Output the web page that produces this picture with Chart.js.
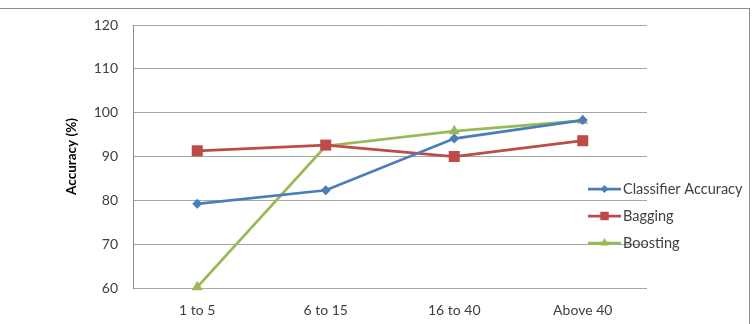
<!DOCTYPE html>
<html>
<head>
<meta charset="utf-8">
<script src="https://cdn.jsdelivr.net/npm/chart.js@4/dist/chart.umd.min.js"></script>
<style>
  html, body { margin: 0; padding: 0; background: #fff; }
  #wrap { position: relative; width: 754px; height: 324px; overflow: hidden; }
  #frame { position: absolute; left: -2px; top: 8px; width: 752px; height: 330px; border: 1px solid #8c8c8c; box-sizing: border-box; }
  canvas { position: absolute; left: 0; top: 0; }
</style>
</head>
<body>
<div id="wrap">
  <div id="frame"></div>
  <canvas id="chart" width="754" height="324"></canvas>
</div>
<script>
Chart.defaults.font.family = 'Lato, "Open Sans", sans-serif';
Chart.defaults.color = '#404040';

// dane
const categories = ['1 to 5', '6 to 15', '16 to 40', 'Above 40'];
const classifierAccuracy = [79.2, 82.3, 94.1, 98.3];
const bagging = [91.3, 92.6, 90.0, 93.6];
const boosting = [60.2, 92.4, 95.8, 98.2];
const seriesNames = ['Classifier Accuracy', 'Bagging', 'Boosting'];
const yTicks = [60, 70, 80, 90, 100, 110, 120];

const colors = ['#4a7ebb', '#be4b48', '#98b954'];
const shapes = ['rectRot', 'rect', 'triangle'];
const radii = [5, 7.8, 6.3];
const legendRadii = [4, 6, 5];

// rysowanie znacznika
function drawMarker(ctx, shape, x, y, r, color) {
    ctx.save();
    ctx.fillStyle = color;
    ctx.beginPath();
    if (shape === 'rect') {
        var s = r * Math.SQRT1_2;
        ctx.rect(x - s, y - s, 2 * s, 2 * s);
    } else if (shape === 'rectRot') {
        ctx.moveTo(x, y - r);
        ctx.lineTo(x + r, y);
        ctx.lineTo(x, y + r);
        ctx.lineTo(x - r, y);
        ctx.closePath();
    } else {
        var w = r * Math.sqrt(3) / 2;
        ctx.moveTo(x, y - r);
        ctx.lineTo(x + w, y + r / 2);
        ctx.lineTo(x - w, y + r / 2);
        ctx.closePath();
    }
    ctx.fill();
    ctx.restore();
}

// legenda wewnątrz obszaru wykresu
const sideLegend = {
    id: 'sideLegend',
    afterDraw(chart) {
        const ctx = chart.ctx;
        chart.data.datasets.forEach((ds, i) => {
            const y = 189 + i * 27;
            ctx.save();
            ctx.strokeStyle = ds.borderColor;
            ctx.lineWidth = 2.75;
            ctx.beginPath();
            ctx.moveTo(588, y);
            ctx.lineTo(621, y);
            ctx.stroke();
            ctx.restore();
            drawMarker(ctx, shapes[i], 604.5, y, legendRadii[i], ds.borderColor);
            ctx.save();
            ctx.fillStyle = '#404040';
            ctx.font = '14.5px Lato, "Open Sans", sans-serif';
            ctx.textBaseline = 'middle';
            ctx.textAlign = 'left';
            ctx.fillText(ds.label, 623, y);
            ctx.restore();
        });
    }
};

const seriesData = [classifierAccuracy, bagging, boosting];

const ctx = document.getElementById('chart').getContext('2d');
const chart = new Chart(ctx, {
    type: 'line',
    data: {
        labels: categories,
        datasets: seriesData.map((d, i) => ({
            label: seriesNames[i],
            data: d,
            borderColor: colors[i],
            backgroundColor: colors[i],
            pointBackgroundColor: colors[i],
            pointBorderColor: colors[i],
            pointBorderWidth: 0,
            pointStyle: shapes[i],
            pointRadius: radii[i],
            borderWidth: 2.75,
            tension: 0,
            fill: false,
            clip: false
        }))
    },
    options: {
        responsive: false,
        animation: false,
        layout: { padding: { left: 60, right: 107, top: 25, bottom: 0 } },
        scales: {
            x: {
                offset: true,
                grid: { display: false, drawTicks: false },
                border: { display: false },
                ticks: { padding: 14, font: { size: 14 }, color: '#404040' },
                afterFit(scale) { scale.height = 36; }
            },
            y: {
                min: 60,
                max: 120,
                afterBuildTicks(scale) { scale.ticks = yTicks.map(v => ({ value: v })); },
                grid: { color: '#a6a6a6', lineWidth: 1, drawTicks: false },
                border: { display: true, color: '#8c8c8c', width: 1 },
                ticks: { padding: 15, font: { size: 14 }, color: '#404040' },
                title: {
                    display: true,
                    text: 'Accuracy (%)',
                    color: '#000',
                    font: { size: 13.5, weight: 'bold' },
                    padding: { top: 4, bottom: 4 }
                },
                afterFit(scale) { scale.width = 73; }
            }
        },
        plugins: {
            legend: { display: false },
            tooltip: { enabled: false }
        }
    },
    plugins: [sideLegend]
});
</script>
</body>
</html>
